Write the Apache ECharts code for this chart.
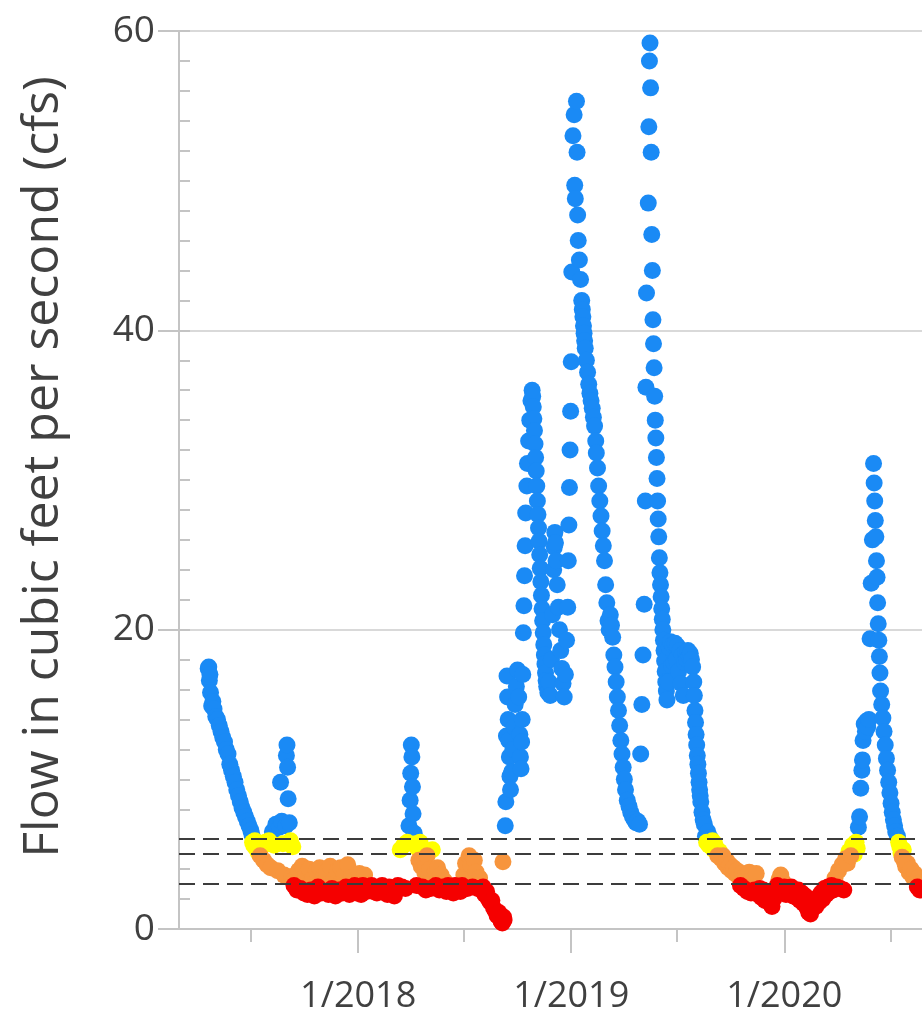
<!DOCTYPE html>
<html>
<head>
<meta charset="utf-8">
<script src="https://cdn.jsdelivr.net/npm/echarts@6/dist/echarts.min.js"></script>
<style>
html, body { margin: 0; padding: 0; background: #fff; }
#chart { width: 922px; height: 1021px; }
</style>
</head>
<body>
<div id="chart"></div>
<script>
// daily flow readings (cfs), split by calendar year
var flow2017 = [
  ['2017-04-19',17.4],['2017-04-20',17.5],['2017-04-21',16.6],['2017-04-22',17.0],['2017-04-23',15.8],['2017-04-25',14.9],['2017-04-27',15.2],['2017-04-29',14.7],
  ['2017-05-02',14.2],['2017-05-05',14.0],['2017-05-08',13.6],['2017-05-11',13.2],['2017-05-14',12.8],['2017-05-17',12.5],['2017-05-20',12.0],['2017-05-23',11.7],['2017-05-26',11.0],['2017-05-29',10.6],
  ['2017-06-01',10.2],['2017-06-04',9.8],['2017-06-07',9.3],['2017-06-10',8.9],['2017-06-13',8.5],['2017-06-16',8.1],['2017-06-19',7.8],['2017-06-22',7.5],['2017-06-25',7.2],['2017-06-28',6.9],
  ['2017-07-01',6.6],['2017-07-03',6.3],['2017-07-04',5.8],['2017-07-06',5.6],['2017-07-08',5.9],['2017-07-10',5.4],['2017-07-12',5.7],['2017-07-14',5.1],['2017-07-17',4.9],['2017-07-20',5.5],['2017-07-23',4.6],['2017-07-26',5.8],['2017-07-29',4.3],
  ['2017-08-01',5.9],['2017-08-04',4.1],['2017-08-07',6.5],['2017-08-10',5.6],['2017-08-13',7.0],['2017-08-16',3.9],['2017-08-19',6.8],['2017-08-21',9.8],['2017-08-23',7.2],['2017-08-25',5.7],['2017-08-27',3.6],['2017-08-30',6.9],['2017-08-31',11.6],
  ['2017-09-01',12.3],['2017-09-02',10.8],['2017-09-03',8.7],['2017-09-05',7.1],['2017-09-07',5.9],['2017-09-09',3.5],['2017-09-11',5.5],['2017-09-13',2.9],['2017-09-15',3.4],['2017-09-18',2.6],['2017-09-21',3.9],['2017-09-24',2.7],['2017-09-27',4.2],['2017-09-30',2.4],
  ['2017-10-03',3.6],['2017-10-06',2.3],['2017-10-09',4.0],['2017-10-12',2.6],['2017-10-15',3.4],['2017-10-18',2.2],['2017-10-21',3.9],['2017-10-24',2.8],['2017-10-27',4.1],['2017-10-30',2.4],
  ['2017-11-02',3.5],['2017-11-05',2.5],['2017-11-08',3.8],['2017-11-11',2.3],['2017-11-14',4.2],['2017-11-17',2.7],['2017-11-20',3.3],['2017-11-23',2.2],['2017-11-26',3.9],['2017-11-29',2.6],
  ['2017-12-02',4.1],['2017-12-05',2.4],['2017-12-08',3.6],['2017-12-11',2.8],['2017-12-14',4.3],['2017-12-17',2.3],['2017-12-20',3.4],['2017-12-23',2.7],['2017-12-26',2.9],['2017-12-29',2.4]
];
var flow2018 = [
  ['2018-01-01',2.8],['2018-01-03',3.7],['2018-01-06',2.3],['2018-01-09',2.9],['2018-01-12',3.6],['2018-01-15',2.5],['2018-01-18',2.8],['2018-01-21',2.6],['2018-01-24',2.9],['2018-01-27',2.5],['2018-01-30',2.7],
  ['2018-02-02',2.4],['2018-02-05',2.8],['2018-02-08',2.6],['2018-02-11',2.9],['2018-02-14',2.5],['2018-02-17',2.7],['2018-02-20',2.3],['2018-02-23',2.8],['2018-02-26',2.4],
  ['2018-03-01',2.7],['2018-03-04',2.2],['2018-03-07',2.6],['2018-03-10',2.9],['2018-03-14',5.3],['2018-03-17',2.8],['2018-03-20',5.6],['2018-03-23',2.7],['2018-03-26',5.8],['2018-03-29',6.9],['2018-03-31',8.6],
  ['2018-04-01',10.4],['2018-04-02',12.3],['2018-04-03',11.5],['2018-04-04',9.5],['2018-04-05',7.7],['2018-04-07',6.4],['2018-04-09',5.7],['2018-04-11',2.9],['2018-04-13',5.4],['2018-04-15',4.6],['2018-04-17',5.8],['2018-04-19',4.2],['2018-04-21',2.8],
  ['2018-04-23',5.1],['2018-04-25',3.8],['2018-04-26',4.4],['2018-04-27',2.6],['2018-04-29',4.9],
  ['2018-05-02',3.5],['2018-05-04',4.0],['2018-05-05',2.7],['2018-05-08',5.3],['2018-05-11',3.3],['2018-05-13',3.9],['2018-05-14',2.9],['2018-05-17',4.1],['2018-05-19',3.4],['2018-05-20',2.6],['2018-05-23',3.6],['2018-05-26',2.8],['2018-05-29',3.2],
  ['2018-06-01',2.5],['2018-06-04',2.9],['2018-06-07',2.6],['2018-06-10',2.8],['2018-06-13',2.4],['2018-06-16',2.9],['2018-06-19',2.6],['2018-06-22',2.8],['2018-06-25',2.5],['2018-06-28',2.9],
  ['2018-07-01',3.6],['2018-07-04',4.4],['2018-07-07',2.7],['2018-07-10',4.9],['2018-07-13',4.3],['2018-07-16',2.8],['2018-07-19',4.6],['2018-07-22',3.8],['2018-07-25',2.7],['2018-07-28',3.4],['2018-07-31',2.6],
  ['2018-08-03',2.8],['2018-08-06',2.3],['2018-08-09',2.5],['2018-08-12',2.0],['2018-08-15',1.8],['2018-08-18',1.9],['2018-08-21',1.4],['2018-08-24',1.2],['2018-08-27',0.9],['2018-08-30',1.1],
  ['2018-09-01',0.7],['2018-09-03',0.5],['2018-09-05',0.4],['2018-09-06',4.5],['2018-09-07',0.8],['2018-09-08',0.6],['2018-09-10',6.9],['2018-09-11',8.5],['2018-09-12',12.9],['2018-09-13',16.9],['2018-09-14',15.5],['2018-09-15',14.0],
  ['2018-09-16',12.6],['2018-09-17',11.5],['2018-09-18',10.2],['2018-09-19',9.3],['2018-09-21',10.5],['2018-09-23',12.0],['2018-09-25',13.5],['2018-09-27',15.0],['2018-09-29',16.2],
  ['2018-10-01',17.3],['2018-10-03',15.5],['2018-10-05',13.0],['2018-10-06',11.5],['2018-10-07',10.7],['2018-10-08',12.5],['2018-10-09',14.0],['2018-10-10',17.0],['2018-10-11',19.8],['2018-10-12',21.6],['2018-10-13',23.6],['2018-10-14',25.6],
  ['2018-10-15',27.8],['2018-10-17',29.6],['2018-10-18',31.1],['2018-10-20',32.6],['2018-10-22',34.0],['2018-10-24',35.3],['2018-10-26',36.0],['2018-10-27',35.6],['2018-10-28',34.9],['2018-10-29',34.1],['2018-10-30',33.3],['2018-10-31',32.4],
  ['2018-11-01',31.5],['2018-11-02',30.6],['2018-11-03',29.6],['2018-11-04',28.6],['2018-11-05',27.7],['2018-11-06',26.8],['2018-11-07',25.9],['2018-11-08',25.0],['2018-11-09',24.1],['2018-11-10',23.2],['2018-11-11',22.3],['2018-11-12',21.4],
  ['2018-11-13',20.6],['2018-11-14',19.8],['2018-11-15',19.0],['2018-11-16',18.3],['2018-11-17',17.7],['2018-11-18',17.1],['2018-11-19',16.6],['2018-11-20',16.2],['2018-11-22',15.8],['2018-11-24',16.5],['2018-11-26',15.6],['2018-11-28',18.0],['2018-11-30',21.0],
  ['2018-12-02',24.0],['2018-12-03',25.5],['2018-12-04',26.5],['2018-12-05',25.8],['2018-12-06',24.6],['2018-12-08',23.0],['2018-12-10',21.5],['2018-12-12',20.0],['2018-12-14',18.6],['2018-12-16',17.4],['2018-12-18',16.4],['2018-12-20',15.5],
  ['2018-12-22',17.0],['2018-12-24',19.3],['2018-12-26',21.5],['2018-12-27',24.6],['2018-12-28',27.0],['2018-12-29',29.5],['2018-12-30',32.0],['2018-12-31',34.6]
];
var flow2019 = [
  ['2019-01-01',37.9],['2019-01-02',43.9],['2019-01-04',53.0],['2019-01-06',54.4],['2019-01-07',49.7],['2019-01-08',48.8],['2019-01-10',55.3],['2019-01-11',51.9],['2019-01-12',47.7],['2019-01-13',46.0],['2019-01-15',44.7],['2019-01-17',43.4],
  ['2019-01-19',42.0],['2019-01-20',41.4],['2019-01-21',40.9],['2019-01-22',40.3],['2019-01-23',39.8],['2019-01-24',39.3],['2019-01-25',38.8],['2019-01-27',38.0],['2019-01-29',37.2],['2019-01-31',36.4],
  ['2019-02-02',35.8],['2019-02-04',35.3],['2019-02-06',34.8],['2019-02-08',34.2],['2019-02-10',33.6],['2019-02-12',32.6],['2019-02-13',31.8],['2019-02-15',30.8],['2019-02-17',29.6],['2019-02-19',28.6],['2019-02-21',27.6],['2019-02-23',26.6],['2019-02-25',25.6],['2019-02-27',24.6],
  ['2019-03-01',23.0],['2019-03-03',21.8],['2019-03-05',20.6],['2019-03-07',20.0],['2019-03-09',21.0],['2019-03-11',20.3],['2019-03-13',19.5],['2019-03-15',18.3],['2019-03-17',17.5],['2019-03-19',16.5],['2019-03-21',15.5],['2019-03-23',14.6],['2019-03-25',13.6],['2019-03-27',12.6],['2019-03-29',11.7],['2019-03-31',10.8],
  ['2019-04-02',10.0],['2019-04-04',9.3],['2019-04-07',8.6],['2019-04-10',8.2],['2019-04-13',7.8],['2019-04-16',7.5],['2019-04-19',7.3],['2019-04-22',7.1],['2019-04-25',7.2],['2019-04-28',7.0],['2019-04-30',11.7],
  ['2019-05-02',15.0],['2019-05-04',18.3],['2019-05-06',21.7],['2019-05-08',28.6],['2019-05-09',36.2],['2019-05-10',42.5],['2019-05-13',48.5],['2019-05-14',53.6],['2019-05-15',58.0],['2019-05-16',59.2],['2019-05-17',56.2],['2019-05-18',51.9],
  ['2019-05-19',46.4],['2019-05-20',44.0],['2019-05-21',40.7],['2019-05-22',39.1],['2019-05-23',37.5],['2019-05-24',35.6],['2019-05-25',34.0],['2019-05-26',32.8],['2019-05-27',31.5],['2019-05-28',30.1],['2019-05-29',28.6],['2019-05-30',27.4],['2019-05-31',26.2],
  ['2019-06-01',24.8],['2019-06-02',23.8],['2019-06-03',23.0],['2019-06-04',22.2],['2019-06-05',21.4],['2019-06-06',20.7],['2019-06-07',20.0],['2019-06-08',19.3],['2019-06-09',18.6],['2019-06-10',17.9],['2019-06-11',17.2],['2019-06-12',16.5],['2019-06-13',15.9],['2019-06-14',15.3],
  ['2019-06-16',16.5],['2019-06-18',18.8],['2019-06-20',19.2],['2019-06-22',17.6],['2019-06-24',19.0],['2019-06-26',17.8],['2019-06-28',19.1],['2019-06-30',18.0],
  ['2019-07-02',18.9],['2019-07-04',17.2],['2019-07-06',18.6],['2019-07-08',16.4],['2019-07-10',18.3],['2019-07-12',15.6],['2019-07-14',17.8],['2019-07-16',18.5],['2019-07-18',18.0],['2019-07-20',18.6],['2019-07-22',18.2],['2019-07-24',18.4],['2019-07-26',18.0],['2019-07-28',17.5],['2019-07-30',16.5],['2019-07-31',15.6],
  ['2019-08-01',14.6],['2019-08-02',13.8],['2019-08-03',13.0],['2019-08-04',12.3],['2019-08-05',11.6],['2019-08-06',11.0],['2019-08-07',10.4],['2019-08-08',9.8],['2019-08-09',9.3],['2019-08-10',8.9],['2019-08-11',8.5],['2019-08-13',7.8],['2019-08-15',7.3],['2019-08-17',7.0],
  ['2019-08-19',6.2],['2019-08-21',5.8],['2019-08-23',6.5],['2019-08-25',5.6],['2019-08-27',6.1],['2019-08-29',5.5],['2019-08-31',5.9],
  ['2019-09-02',5.3],['2019-09-04',5.7],['2019-09-06',5.3],['2019-09-09',4.9],['2019-09-12',5.2],['2019-09-15',4.7],['2019-09-18',4.9],['2019-09-21',4.4],['2019-09-24',4.6],['2019-09-27',4.1],['2019-09-30',4.3],
  ['2019-10-03',3.9],['2019-10-06',4.1],['2019-10-09',3.7],['2019-10-12',3.9],['2019-10-15',3.5],['2019-10-18',2.9],['2019-10-21',3.7],['2019-10-24',2.7],['2019-10-27',3.6],['2019-10-30',2.5],
  ['2019-11-02',3.8],['2019-11-05',2.4],['2019-11-08',3.6],['2019-11-11',2.6],['2019-11-14',3.7],['2019-11-17',2.3],['2019-11-20',2.7],['2019-11-23',2.1],['2019-11-26',2.6],['2019-11-29',1.9],
  ['2019-12-02',2.5],['2019-12-05',1.8],['2019-12-08',2.2],['2019-12-11',1.5],['2019-12-14',2.0],['2019-12-17',2.6],['2019-12-20',2.9],['2019-12-23',3.3],['2019-12-26',3.6],['2019-12-29',3.2]
];
var flow2020 = [
  ['2020-01-01',2.8],['2020-01-04',2.3],['2020-01-07',2.7],['2020-01-10',2.4],['2020-01-13',2.8],['2020-01-16',2.2],['2020-01-19',2.6],['2020-01-22',2.1],['2020-01-25',2.6],['2020-01-28',1.9],['2020-01-31',2.4],
  ['2020-02-03',1.7],['2020-02-06',2.2],['2020-02-09',1.4],['2020-02-12',1.1],['2020-02-15',1.0],['2020-02-18',1.4],['2020-02-21',1.8],['2020-02-24',1.5],['2020-02-27',2.1],
  ['2020-03-01',1.8],['2020-03-04',2.4],['2020-03-07',2.0],['2020-03-10',2.7],['2020-03-13',2.3],['2020-03-16',2.8],['2020-03-19',2.5],['2020-03-22',2.9],['2020-03-25',2.6],['2020-03-28',3.4],['2020-03-31',2.8],
  ['2020-04-03',3.9],['2020-04-06',2.7],['2020-04-09',4.3],['2020-04-12',2.6],['2020-04-15',4.7],['2020-04-18',4.4],['2020-04-21',5.2],['2020-04-24',4.9],['2020-04-27',5.6],['2020-04-30',5.0],
  ['2020-05-03',5.8],['2020-05-05',5.4],['2020-05-07',6.8],['2020-05-09',7.5],['2020-05-11',9.4],['2020-05-13',10.6],['2020-05-14',11.3],['2020-05-15',12.6],['2020-05-17',13.7],['2020-05-19',13.2],['2020-05-21',13.9],['2020-05-23',13.5],['2020-05-25',14.0],
  ['2020-05-27',19.4],['2020-05-29',23.1],['2020-05-31',26.0],
  ['2020-06-02',31.1],['2020-06-03',29.8],['2020-06-04',28.6],['2020-06-05',27.3],['2020-06-06',26.2],['2020-06-07',24.6],['2020-06-08',23.5],['2020-06-09',21.8],['2020-06-10',20.4],['2020-06-11',19.3],['2020-06-12',18.2],['2020-06-13',17.1],['2020-06-14',15.9],
  ['2020-06-16',15.0],['2020-06-18',14.1],['2020-06-20',13.2],['2020-06-22',12.3],['2020-06-24',11.4],['2020-06-26',10.6],['2020-06-28',9.8],['2020-06-30',9.1],
  ['2020-07-02',8.4],['2020-07-04',7.8],['2020-07-06',7.3],['2020-07-08',6.9],['2020-07-10',6.5],['2020-07-13',6.2],['2020-07-15',5.8],['2020-07-17',5.5],['2020-07-19',5.1],['2020-07-21',4.8],['2020-07-23',5.3],['2020-07-25',4.5],['2020-07-27',4.2],['2020-07-30',4.4],
  ['2020-08-02',3.8],['2020-08-05',4.0],['2020-08-08',3.5],['2020-08-11',3.7],['2020-08-14',3.2],['2020-08-16',2.8],['2020-08-18',3.4],['2020-08-20',2.6],['2020-08-22',3.1],['2020-08-24',2.7]
];

var thresholds = [6, 5, 3];            // dashed reference lines, cfs
var yearTicks = ['2018-01-01', '2019-01-01', '2020-01-01'];
var midYearTicks = ['2017-07-01', '2018-07-01', '2019-07-01', '2020-07-01'];
var xStart = '2017-02-28', xEnd = '2020-08-24';

function toTime(s) { return +echarts.time.parse(s); }

// dates -> timestamps so a plain value axis can carry them
var allFlow = [].concat(flow2017, flow2018, flow2019, flow2020).map(function (d) {
    return [toTime(d[0]), d[1]];
});
var axisGray = '#c4c4c4';
var labelColor = '#404040';
var font = 'Open Sans';
var dot = 17;

var chart = echarts.init(document.getElementById('chart'));

var option = {
    animation: false,
    textStyle: { fontFamily: font },
    grid: { left: 179, right: 0, top: 31, bottom: 92 },
    dataset: [
        { dimensions: ['date', 'cfs'], source: allFlow },
        { transform: { type: 'filter', config: { dimension: 'cfs', '>=': thresholds[0] } } },
        { transform: { type: 'filter', config: { and: [{ dimension: 'cfs', '>=': thresholds[1] }, { dimension: 'cfs', '<': thresholds[0] }] } } },
        { transform: { type: 'filter', config: { and: [{ dimension: 'cfs', '>=': thresholds[2] }, { dimension: 'cfs', '<': thresholds[1] }] } } },
        { transform: { type: 'filter', config: { dimension: 'cfs', '<': thresholds[2] } } }
    ],
    xAxis: [
        {
            type: 'value', position: 'bottom', min: toTime(xStart), max: toTime(xEnd),
            axisLine: { onZero: false, lineStyle: { color: axisGray, width: 2 } },
            axisTick: { show: true, customValues: yearTicks.map(toTime), length: 24, lineStyle: { color: axisGray, width: 2 } },
            axisLabel: {
                customValues: yearTicks.map(toTime),
                formatter: function (v) { return echarts.time.format(v, '{M}/{yyyy}', false); },
                fontSize: 36, color: labelColor, margin: 50, fontFamily: font
            },
            splitLine: { show: false }
        },
        {
            type: 'value', position: 'bottom', min: toTime(xStart), max: toTime(xEnd),
            axisLine: { show: false },
            axisTick: { show: true, customValues: midYearTicks.map(toTime), length: 13, lineStyle: { color: axisGray, width: 2 } },
            axisLabel: { show: false },
            splitLine: { show: false }
        }
    ],
    yAxis: [
        {
            type: 'value', position: 'left', min: 0, max: 60, interval: 20,
            name: 'Flow in cubic feet per second (cfs)',
            nameLocation: 'middle', nameRotate: 90, nameGap: 110,
            nameTextStyle: { fontSize: 50, color: labelColor, fontFamily: font, padding: [0, 0, 0, 26] },
            axisLine: { show: true, lineStyle: { color: axisGray, width: 2 } },
            axisTick: { show: true, length: 21, lineStyle: { color: axisGray, width: 2 } },
            axisLabel: { fontSize: 37, color: labelColor, margin: 24, fontFamily: font },
            splitLine: { show: true, lineStyle: { color: '#d9d9d9', width: 2 } }
        },
        {
            type: 'value', position: 'left', min: 0, max: 60, interval: 2,
            axisLine: { show: false },
            axisTick: { show: true, inside: true, length: 11, lineStyle: { color: axisGray, width: 2 } },
            axisLabel: { show: false },
            splitLine: { show: false }
        }
    ],
    series: [
        { type: 'scatter', datasetIndex: 1, encode: { x: 'date', y: 'cfs' }, symbolSize: dot, itemStyle: { color: '#1a8af5', opacity: 1 } },
        { type: 'scatter', datasetIndex: 2, encode: { x: 'date', y: 'cfs' }, symbolSize: dot, itemStyle: { color: '#ffff00', opacity: 1 } },
        { type: 'scatter', datasetIndex: 3, encode: { x: 'date', y: 'cfs' }, symbolSize: dot, itemStyle: { color: '#f7953d', opacity: 1 } },
        {
            type: 'scatter', datasetIndex: 4, encode: { x: 'date', y: 'cfs' }, symbolSize: dot, itemStyle: { color: '#f50000', opacity: 1 },
            markLine: {
                silent: true, symbol: ['none', 'none'], animation: false,
                label: { show: false },
                lineStyle: { color: '#3c3c3c', width: 2, type: [16, 8] },
                data: thresholds.map(function (t) { return { yAxis: t }; })
            }
        }
    ]
};
chart.setOption(option);
</script>
</body>
</html>
